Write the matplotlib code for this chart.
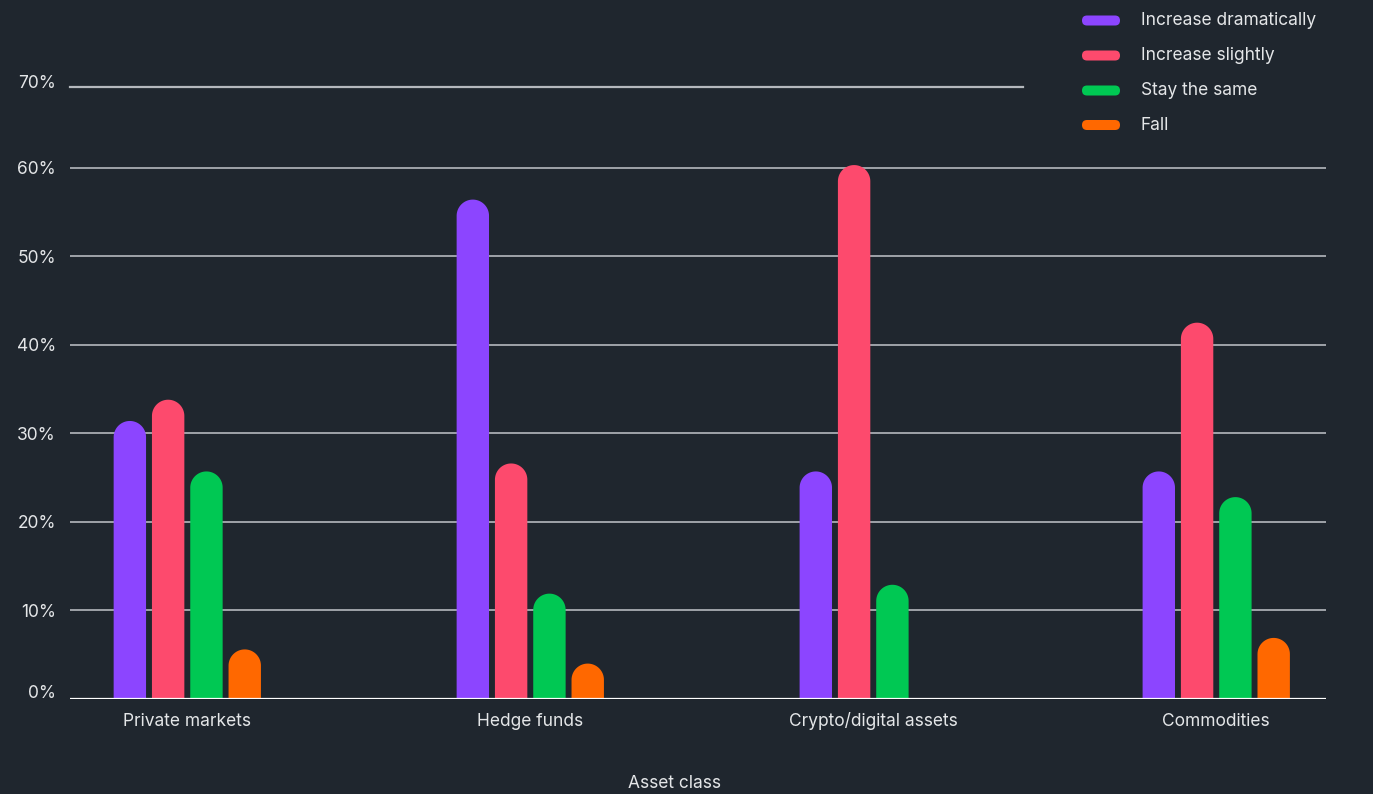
import matplotlib
matplotlib.use("Agg")
import matplotlib.pyplot as plt
import numpy as np
from matplotlib.path import Path
from matplotlib.patches import PathPatch, FancyBboxPatch
from matplotlib.transforms import ScaledTranslation

# ---- data -------------------------------------------------------------
categories = ["Private markets", "Hedge funds", "Crypto/digital assets", "Commodities"]
series_names = ["Increase dramatically", "Increase slightly", "Stay the same", "Fall"]
increase_dramatically = [31.4, 56.4, 25.7, 25.7]
increase_slightly = [33.8, 26.6, 60.3, 42.5]
stay_the_same = [25.7, 11.9, 12.9, 22.8]
fall = [5.6, 4.0, 0.0, 6.9]
ytick_values = [0, 10, 20, 30, 40, 50, 60]
ytick_labels = ["0%", "10%", "20%", "30%", "40%", "50%", "60%"]
top_label = "70%"
x_title = "Asset class"

series = [increase_dramatically, increase_slightly, stay_the_same, fall]
colors = ["#8c45ff", "#fd4a6d", "#00c853", "#ff6800"]

BG = "#1f262e"
TEXT = "#e4e6e8"
GRID = "#b4b8bd"
FONT = ["Inter", "DejaVu Sans"]

plt.rcParams["font.family"] = FONT

W, H = 1373, 794
DPI = 100
fig = plt.figure(figsize=(W / DPI, H / DPI), dpi=DPI, facecolor=BG)

# plot area in pixels
left_px, right_px, base_px, top_px = 70, 1326, 699, 86.7
ax = fig.add_axes([left_px / W, (H - base_px) / H,
                   (right_px - left_px) / W, (base_px - top_px) / H])
ax.set_facecolor(BG)
y_top = 69.15
ax.set_xlim(-0.342, 3.32)
ax.set_ylim(0, y_top)
for s in ax.spines.values():
    s.set_visible(False)

# gridlines
for v in ytick_values[1:]:
    ax.axhline(v, color=GRID, lw=1.2, zorder=1)
ax.axhline(y_top, xmin=0, xmax=(1023 - left_px) / (right_px - left_px),
           color=GRID, lw=1.6, zorder=1, clip_on=False)
ax.axhline(0, color="white", lw=1.6, zorder=4)

# y tick labels
ax.set_yticks(ytick_values + [y_top])
ax.set_yticklabels(ytick_labels + [top_label])
ax.tick_params(axis="y", length=0, pad=10, labelsize=12.5, labelcolor=TEXT)


def nudge(label, dy_px):
    label.set_transform(label.get_transform()
                        + ScaledTranslation(0, dy_px / DPI, fig.dpi_scale_trans))


ylabels = ax.get_yticklabels()
nudge(ylabels[0], 7)
nudge(ylabels[-1], 5)

# x tick labels, aligned on a common baseline
x = np.arange(len(categories))
ax.set_xticks(x)
ax.set_xticklabels(categories)
ax.tick_params(axis="x", length=0, pad=(726 - base_px) * 72 / DPI,
               labelsize=12.5, labelcolor=TEXT)
for lab in ax.get_xticklabels():
    lab.set_va("baseline")

# rounded-top bars
fig.canvas.draw()
p0 = ax.transData.transform((0, 0))
p1 = ax.transData.transform((1, 1))
px_per_x = p1[0] - p0[0]
px_per_y = p1[1] - p0[1]

bar_w = 32.4 / px_per_x
pitch = 38.3 / px_per_x
r_px = 32.4 / 2
ry = r_px / px_per_y


def rounded_bar(xc, h, color):
    if h <= 0:
        return
    x0, x1 = xc - bar_w / 2, xc + bar_w / 2
    cap = min(ry, h)
    t = np.linspace(np.pi, 0, 40)
    arc_x = xc + (bar_w / 2) * np.cos(t)
    arc_y = (h - cap) + cap * np.sin(t)
    verts = [(x0, 0)] + list(zip(arc_x, arc_y)) + [(x1, 0), (x0, 0)]
    codes = [Path.MOVETO] + [Path.LINETO] * (len(verts) - 2) + [Path.CLOSEPOLY]
    ax.add_patch(PathPatch(Path(verts, codes), facecolor=color,
                           edgecolor="none", zorder=3))


for i, (vals, c) in enumerate(zip(series, colors)):
    off = (i - 1.5) * pitch
    for xi, v in zip(x, vals):
        rounded_bar(xi + off, v, c)

# axis title
fig.text(675 / W, 1 - 784 / H, x_title, ha="center", va="center",
         fontsize=12.5, color=TEXT)

# legend in pixel coordinates
lax = fig.add_axes([0, 0, 1, 1])
lax.set_xlim(0, W)
lax.set_ylim(H, 0)
lax.axis("off")
lax.patch.set_alpha(0)
row_y = [20.5, 55.5, 90.5, 125]
for name, c, yy in zip(series_names, colors, row_y):
    lax.add_patch(FancyBboxPatch((1087, yy), 28, 0.01,
                                 boxstyle="round,pad=5,rounding_size=5",
                                 facecolor=c, edgecolor="none"))
    lax.text(1141, yy, name, ha="left", va="center", fontsize=12.5, color=TEXT)

fig.savefig("out.png", dpi=DPI, facecolor=BG)
